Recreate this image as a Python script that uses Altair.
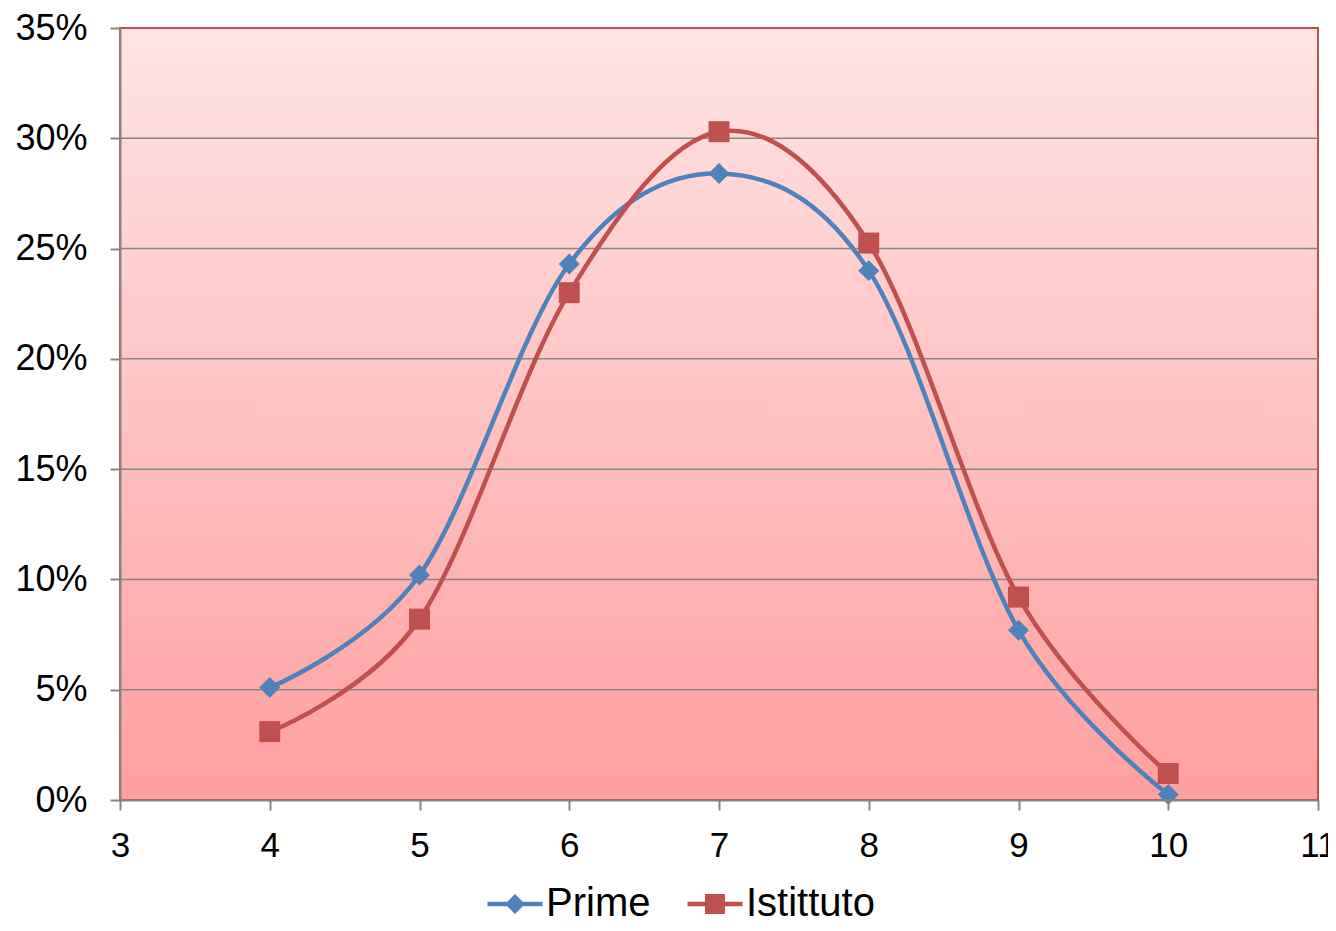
import altair as alt
import pandas as pd

# ---- data ----
grades = [4, 5, 6, 7, 8, 9, 10]
prime = [0.051, 0.102, 0.243, 0.284, 0.240, 0.077, 0.0025]
istittuto = [0.031, 0.082, 0.230, 0.303, 0.2525, 0.092, 0.012]
series_names = ["Prime", "Istittuto"]
series_colors = ["#4F81BD", "#C0504D"]
x_ticks = [3, 4, 5, 6, 7, 8, 9, 10, 11]
y_ticks = [0, 0.05, 0.10, 0.15, 0.20, 0.25, 0.30, 0.35]
grid_vals = [0.05, 0.10, 0.15, 0.20, 0.25, 0.30]

W, H = 1198, 772
FONT = "Liberation Sans"
GRAY = "#868686"

rows = []
for name, vals in zip(series_names, [prime, istittuto]):
    for g, v in zip(grades, vals):
        rows.append({"grade": g, "series": name, "value": v})
df = pd.DataFrame(rows)
grid_df = pd.DataFrame({"value": grid_vals})

x_axis = alt.Axis(
    values=x_ticks, title=None, grid=False, labelFontSize=35, labelFont=FONT,
    labelColor="black", domainColor=GRAY, domainWidth=2, tickColor=GRAY,
    tickWidth=2, tickSize=10, labelPadding=18, zindex=1, labelFlush=False,
)
y_axis = alt.Axis(
    values=y_ticks, format=".0%", title=None, grid=False, labelFontSize=36,
    labelFont=FONT, labelColor="black", domainColor=GRAY, domainWidth=2,
    tickColor=GRAY, tickWidth=2, tickSize=10, labelPadding=23, zindex=1,
    labelFlush=False,
)
x_scale = alt.Scale(domain=[3, 11], nice=False, zero=False)
y_scale = alt.Scale(domain=[0, 0.35], nice=False)
x_enc = alt.X("grade:Q", scale=x_scale, axis=x_axis)
y_enc = alt.Y("value:Q", scale=y_scale, axis=y_axis)

bg = alt.Chart(pd.DataFrame({"a": [0]})).mark_rect(
    fill=alt.Gradient(
        gradient="linear",
        stops=[
            alt.GradientStop(color="#FFE4E5", offset=0),
            alt.GradientStop(color="#FF9F9F", offset=1),
        ],
        x1=0, x2=0, y1=0, y2=1,
    ),
    stroke="#C0504D",
    strokeWidth=2,
).encode(x=alt.value(0), x2=alt.value(W), y=alt.value(0), y2=alt.value(H))

grid = alt.Chart(grid_df).mark_rule(color=GRAY, strokeWidth=1.5).encode(y=y_enc)

layers = [bg, grid]
shapes = ["diamond", "square"]
for name, col in zip(series_names, series_colors):
    sub = alt.Chart(df).transform_filter(alt.datum.series == name)
    layers.append(
        sub.mark_line(interpolate="cardinal", color=col, strokeWidth=4.5).encode(x=x_enc, y=y_enc)
    )
for name, col, shp in zip(series_names, series_colors, shapes):
    sub = alt.Chart(df).transform_filter(alt.datum.series == name)
    layers.append(
        sub.mark_point(filled=True, color=col, shape=shp, size=440, opacity=1).encode(x=x_enc, y=y_enc)
    )

path_prime = "M-2.75,-0.22H2.75V0.22H-2.75Z M0,-1L1,0L0,1L-1,0Z"
path_ist = "M-2.75,-0.22H2.75V0.22H-2.75Z M-1,-1H1V1H-1Z"

leg = alt.Legend(
    orient="none", legendX=375, legendY=856, direction="horizontal", title=None,
    labelFontSize=40, labelFont=FONT, labelColor="black", symbolSize=400,
    symbolOpacity=1, symbolStrokeWidth=0, labelOffset=11, columnPadding=36,
    labelLimit=400,
)
legend_layer = alt.Chart(df).mark_point(filled=True, opacity=0, size=1).encode(
    x=x_enc,
    y=y_enc,
    color=alt.Color("series:N", scale=alt.Scale(domain=series_names, range=series_colors), legend=leg),
    shape=alt.Shape("series:N", scale=alt.Scale(domain=series_names, range=[path_prime, path_ist]), legend=leg),
)
layers.append(legend_layer)

chart = alt.layer(*layers).properties(
    width=W, height=H,
    autosize=alt.AutoSizeParams(type="none"),
    padding={"left": 112, "top": 20, "right": 10, "bottom": 123},
    background="white",
).configure_view(stroke=None)

chart.save("out.html", embed_options={"renderer": "svg", "actions": False})
